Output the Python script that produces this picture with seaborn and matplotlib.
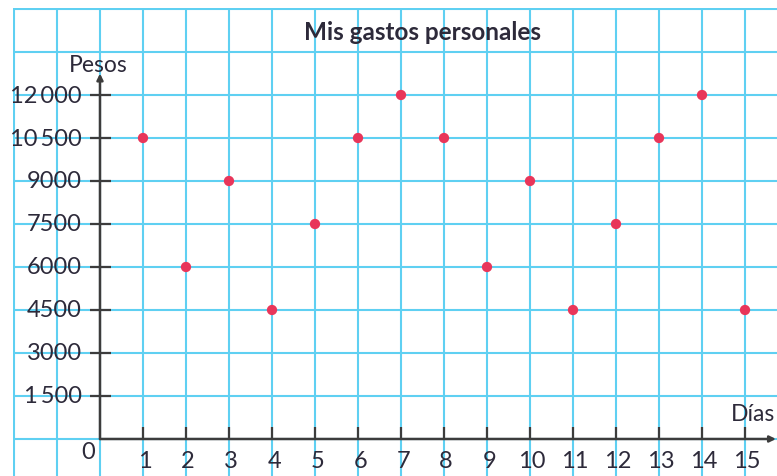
"""
Scatter chart of daily personal spending on a squared-paper grid.
"""

import seaborn as sns
import pandas as pd
import matplotlib.pyplot as plt

# Data
days = list(range(1, 16))
pesos = [10500, 6000, 9000, 4500, 7500, 10500, 12000, 10500,
         6000, 9000, 4500, 7500, 10500, 12000, 4500]
y_ticks = [1500, 3000, 4500, 6000, 7500, 9000, 10500, 12000]
y_labels = ['1\u2009500', '3000', '4500', '6000', '7500', '9000',
            '10\u2009500', '12\u2009000']
title = 'Mis gastos personales'

df = pd.DataFrame({'Días': days, 'Pesos': pesos})

sns.set_style('white')
plt.rcParams['font.family'] = ['Lato', 'DejaVu Sans']

TEXT = '#2d2a3a'
GRID = '#5fd0f2'
AXIS = '#3c3c3c'

fig = plt.figure(figsize=(7.77, 4.77), dpi=100)
# grid area starts a little inside the top-left corner
ax = fig.add_axes([13 / 777, 0, 1 - 13 / 777, 1 - 9 / 477])
ax.set_xlim(-2.023, 15.744)
ax.set_ylim(-1291, 15035)

# squared-paper grid
ax.set_xticks(range(-2, 16))
ax.set_yticks(range(0, 15001, 1500))
ax.grid(True, color=GRID, linewidth=1.5)
ax.tick_params(length=0, labelleft=False, labelbottom=False)
for s in ax.spines.values():
    s.set_visible(False)

# axes with arrows
ax.annotate('', xy=(0, 12750), xytext=(0, 0),
            arrowprops=dict(arrowstyle='-|>', color=AXIS, lw=1.8,
                            mutation_scale=9, shrinkA=0, shrinkB=0))
ax.annotate('', xy=(15.72, 0), xytext=(0, 0),
            arrowprops=dict(arrowstyle='-|>', color=AXIS, lw=1.8,
                            mutation_scale=9, shrinkA=0, shrinkB=0))

# tick marks and labels
for v, lab in zip(y_ticks, y_labels):
    ax.plot([-0.23, 0.26], [v, v], color=AXIS, lw=1.6, solid_capstyle='butt')
    ax.text(-0.42, v, lab, ha='right', va='center', fontsize=17, color=TEXT)
for d in days:
    ax.plot([d, d], [0, 420], color=AXIS, lw=1.6, solid_capstyle='butt')
    ax.text(d + 0.05, -390, str(d), ha='center', va='top', fontsize=17, color=TEXT)
ax.text(-0.28, -450, '0', ha='center', va='center', fontsize=17, color=TEXT)

# points
sns.scatterplot(data=df, x='Días', y='Pesos', ax=ax, color='#e8365a',
                s=55, edgecolor='none', zorder=5, legend=False)
ax.set_xlabel('')
ax.set_ylabel('')

# axis names and title
ax.text(-0.72, 13080, 'Pesos', ha='left', va='center', fontsize=16.5, color=TEXT)
ax.text(14.68, 900, 'Días', ha='left', va='center', fontsize=16.5, color=TEXT)
ax.text(7.5, 14230, title, ha='center', va='center', fontsize=17.5,
        fontweight='bold', color=TEXT)

fig.savefig('out.png', dpi=100)
